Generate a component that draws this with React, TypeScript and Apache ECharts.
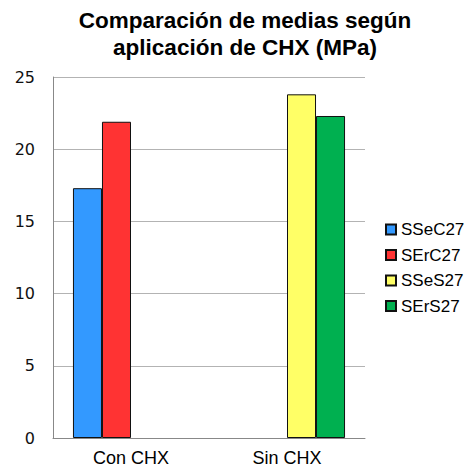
import React, { useEffect, useRef } from "react";
import * as echarts from "echarts";

const categories = ["Con CHX", "Sin CHX"];
const seriesNames = ["SSeC27", "SErC27", "SSeS27", "SErS27"];
const seriesColors = ["#3399ff", "#ff3333", "#ffff66", "#00b050"];
const SSeC27 = [17.3, null];
const SErC27 = [21.9, null];
const SSeS27 = [null, 23.8];
const SErS27 = [null, 22.3];
const seriesValues = [SSeC27, SErC27, SSeS27, SErS27];
const yTicks = [0, 5, 10, 15, 20, 25];

export default function App() {
  const ref = useRef<HTMLDivElement>(null);
  useEffect(() => {
    if (!ref.current) return;
    const chart = echarts.init(ref.current, null, { renderer: "svg" });
    chart.setOption({
      animation: false,
      backgroundColor: "#ffffff",
      graphic: [
        {
          type: "text",
          x: 245,
          y: 7,
          style: {
            text: "Comparación de medias según\naplicación de CHX (MPa)",
            font: "bold 22.5px 'Liberation Sans', Arial, sans-serif",
            fill: "#000",
            textAlign: "center",
            lineHeight: 27,
          },
        },
      ],
      legend: {
        orient: "vertical",
        left: 385,
        top: 221,
        padding: 0,
        itemWidth: 10,
        itemHeight: 10,
        itemGap: 8.5,
        icon: "rect",
        data: seriesNames,
        textStyle: { fontFamily: "'Liberation Sans', Arial, sans-serif", fontSize: 17, color: "#000" },
      },
      grid: { left: 53, right: 111, top: 77, bottom: 32, containLabel: false },
      xAxis: {
        type: "category",
        data: categories,
        axisLine: { lineStyle: { color: "#888888" } },
        axisTick: { show: false },
        axisLabel: { fontFamily: "'Liberation Sans', Arial, sans-serif", fontSize: 18, color: "#000", margin: 11 },
      },
      yAxis: {
        type: "value",
        min: yTicks[0],
        max: yTicks[yTicks.length - 1],
        interval: 5,
        axisLine: { show: true, lineStyle: { color: "#888888" } },
        axisTick: { show: false },
        axisLabel: { fontFamily: "'DejaVu Sans', Verdana, sans-serif", fontSize: 16, color: "#111", margin: 18 },
        splitLine: { lineStyle: { color: "#b3b3b3" } },
      },
      series: seriesNames.map((name, i) => ({
        name,
        type: "bar",
        data: seriesValues[i],
        barGap: "0%",
        barCategoryGap: "25.6%",
        itemStyle: { color: seriesColors[i], borderColor: "#111", borderWidth: 1 },
      })),
    });
    return () => chart.dispose();
  }, []);
  return <div ref={ref} style={{ position: "fixed", left: 0, top: 0, width: 476, height: 470 }} />;
}
